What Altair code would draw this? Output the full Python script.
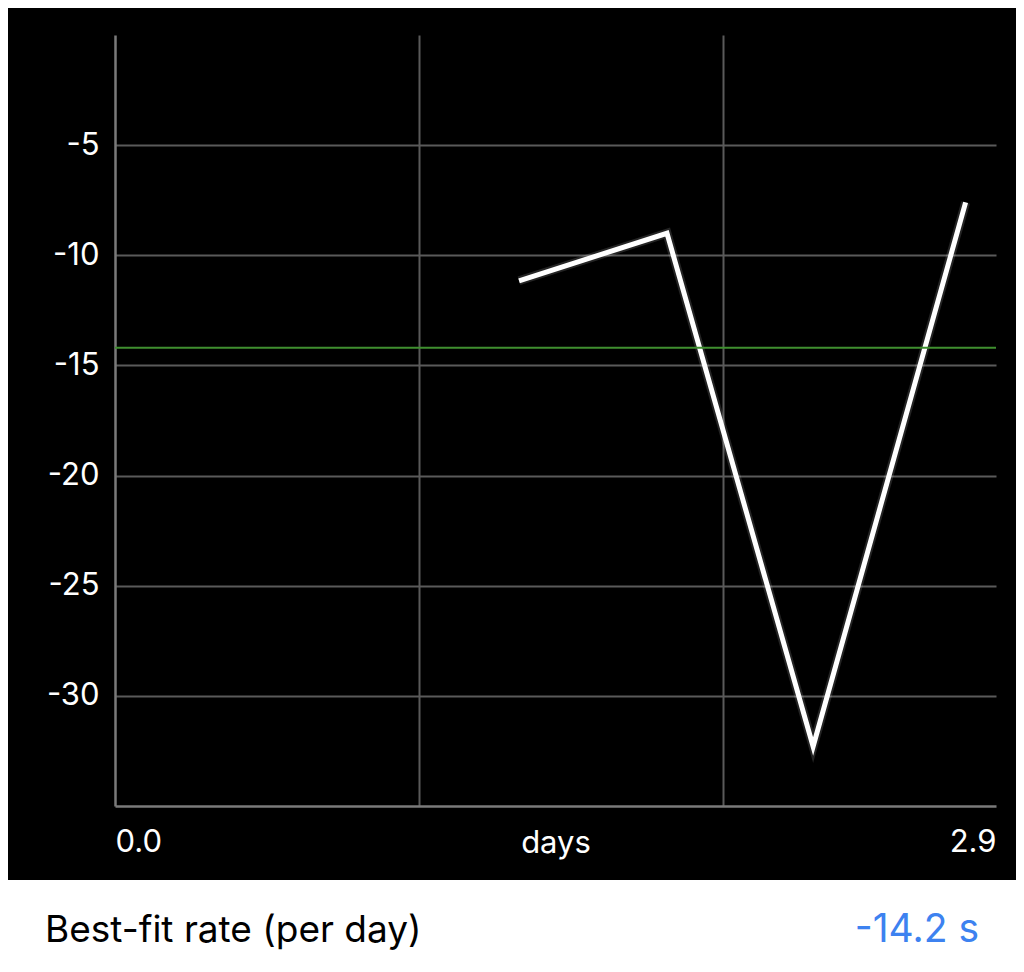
import altair as alt
import pandas as pd

# Data
days = [1.33, 1.817, 2.298, 2.80]
offsets = [-11.16, -9.0, -32.3, -7.6]
best_fit_rate = -14.2
x_tick_values = [0, 1, 2, 2.9]
y_tick_values = [-5, -10, -15, -20, -25, -30]
row_label = "Best-fit rate (per day)"
row_value = "-14.2 s"

FONT = "Inter"
W, H = 881, 771
PAD = {"left": 107, "top": 27, "right": 20, "bottom": 150}

line_df = pd.DataFrame({"days": days, "offset": offsets})
rate_df = pd.DataFrame({"rate": [best_fit_rate]})
one = pd.DataFrame({"k": [0]})

x_scale = alt.Scale(domain=[0, 2.9], nice=False, zero=False)
y_scale = alt.Scale(domain=[-35, 0], nice=False, zero=False)

x_axis = alt.Axis(
    values=x_tick_values,
    labelExpr="datum.value == 0 ? '0.0' : datum.value == 2.9 ? '2.9' : ''",
    labelFlush=True,
    grid=True,
    gridOpacity={"expr": "datum.value == 1 || datum.value == 2 ? 1 : 0"},
    gridColor="#5a5a5a",
    gridWidth=2,
    ticks=False,
    domainColor="#7a7a7a",
    domainWidth=2.5,
    labelColor="white",
    labelFont=FONT,
    labelFontSize=31,
    labelPadding=36,
    labelBaseline="middle",
    title="days",
    titleColor="white",
    titleFont=FONT,
    titleFontSize=31,
    titleFontWeight="normal",
    titleY=37,
    titleBaseline="middle",
)
y_axis = alt.Axis(
    values=y_tick_values,
    labelExpr="'' + datum.value",
    grid=True,
    gridColor="#5a5a5a",
    gridWidth=2,
    ticks=False,
    domainColor="#7a7a7a",
    domainWidth=2.5,
    labelColor="white",
    labelFont=FONT,
    labelFontSize=31,
    labelPadding=16,
    title=None,
)

glow = alt.Chart(line_df).mark_line(color="white", strokeWidth=9, opacity=0.14).encode(
    x=alt.X("days:Q", scale=x_scale, axis=x_axis),
    y=alt.Y("offset:Q", scale=y_scale, axis=y_axis),
)
line = alt.Chart(line_df).mark_line(color="white", strokeWidth=5).encode(
    x=alt.X("days:Q", scale=x_scale),
    y=alt.Y("offset:Q", scale=y_scale),
)
rate = alt.Chart(rate_df).mark_rule(color="#3f8f2f", strokeWidth=2).encode(
    y=alt.Y("rate:Q", scale=y_scale),
)

white_band = alt.Chart(one).mark_rect(color="white", clip=False).encode(
    x=alt.value(-PAD["left"]),
    x2=alt.value(W + PAD["right"]),
    y=alt.value(845),
    y2=alt.value(H + PAD["bottom"]),
)
label_txt = alt.Chart(pd.DataFrame({"t": [row_label]})).mark_text(
    align="left", baseline="middle", font=FONT, fontSize=37, color="black"
).encode(x=alt.value(-70), y=alt.value(896), text="t:N")
value_txt = alt.Chart(pd.DataFrame({"t": [row_value]})).mark_text(
    align="right", baseline="middle", font=FONT, fontSize=39, color="#3d82f0"
).encode(x=alt.value(864), y=alt.value(895), text="t:N")

chart = alt.layer(glow, line, rate, white_band, label_txt, value_txt).properties(
    width=W,
    height=H,
    padding=PAD,
    autosize=alt.AutoSizeParams(type="none"),
    background="black",
).configure_view(stroke=None)

chart.save("out.html", embed_options={"renderer": "svg", "actions": False})
